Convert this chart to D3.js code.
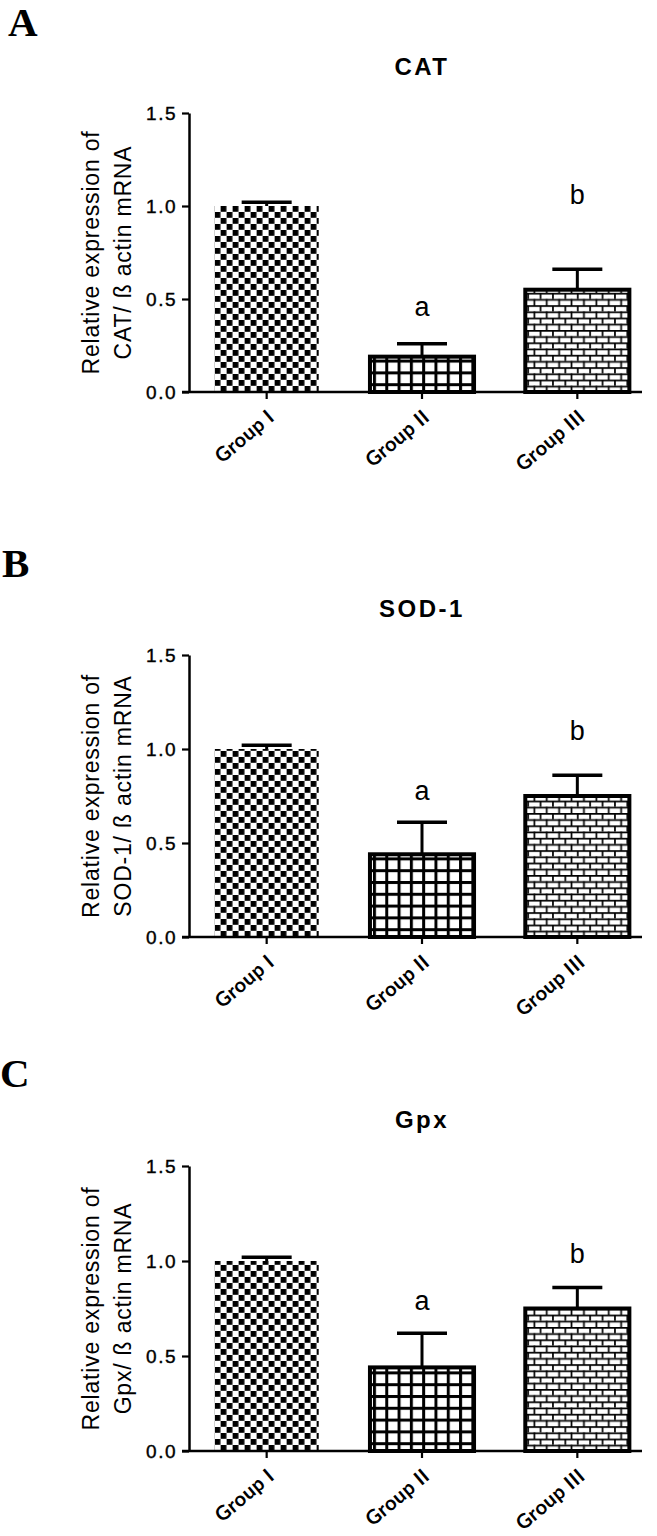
<!DOCTYPE html>
<html>
<head>
    <script src="https://d3js.org/d3.v7.min.js"></script>
    <style>
        body { margin: 0; background: #fff; }
    </style>
</head>
<body>
    <div id="fig"></div>

    <script>

        // data
        const groups = ["Group I", "Group II", "Group III"];
        const yTicks = [0, 0.5, 1.0, 1.5];

        const catMean = [1.00, 0.19, 0.55];
        const catErr  = [0.02, 0.07, 0.11];
        const sodMean = [1.00, 0.44, 0.75];
        const sodErr  = [0.02, 0.17, 0.11];
        const gpxMean = [1.00, 0.44, 0.75];
        const gpxErr  = [0.02, 0.18, 0.11];

        const sigLetters = ["", "a", "b"];
        const catLetterAt = [null, 0.46, 1.06];
        const sodLetterAt = [null, 0.78, 1.10];
        const gpxLetterAt = [null, 0.79, 1.04];

        const panelLetters = ["A", "B", "C"];
        const titles = ["CAT", "SOD-1", "Gpx"];
        const yLabels = ["CAT/ ß actin mRNA", "SOD-1/ ß actin mRNA", "Gpx/ ß actin mRNA"];

        // layout of the three panels (pixel top / bottom of y axis)
        const panels = [
            {mean: catMean, err: catErr, letterAt: catLetterAt, yTop: 113, yBot: 392, letterY: 36, letterX: 8},
            {mean: sodMean, err: sodErr, letterAt: sodLetterAt, yTop: 655, yBot: 937, letterY: 577, letterX: 2},
            {mean: gpxMean, err: gpxErr, letterAt: gpxLetterAt, yTop: 1166, yBot: 1451, letterY: 1087, letterX: 0}
        ];

        const W = 657, H = 1536;
        const axisX = 189, plotRight = 655;

        const svg = d3.select("#fig")
            .append("svg")
            .attr("width", W)
            .attr("height", H);

        const defs = svg.append("defs");

        const x = d3.scaleBand()
            .domain(groups)
            .range([axisX, plotRight])
            .paddingInner(0.33)
            .paddingOuter(0.165);

        ////////////////////////////////////////////////////////////////////////////////

        function makePatterns(i, y0) {
            // checkerboard for group I
            const chk = defs.append("pattern")
                .attr("id", "chk" + i)
                .attr("patternUnits", "userSpaceOnUse")
                .attr("x", x("Group I")).attr("y", y0)
                .attr("width", 12).attr("height", 12);
            chk.append("rect").attr("width", 12).attr("height", 12).attr("fill", "#fff");
            chk.append("rect").attr("x", 0).attr("y", 0).attr("width", 5.8).attr("height", 5.8).attr("fill", "#000");
            chk.append("rect").attr("x", 6).attr("y", 6).attr("width", 5.8).attr("height", 5.8).attr("fill", "#000");

            // square grid for group II
            const grd = defs.append("pattern")
                .attr("id", "grd" + i)
                .attr("patternUnits", "userSpaceOnUse")
                .attr("x", x("Group II") + 3).attr("y", y0 + 3)
                .attr("width", 12.3).attr("height", 11.8);
            grd.append("rect").attr("width", 12.3).attr("height", 11.8).attr("fill", "#000");
            grd.append("rect").attr("x", 3).attr("y", 3).attr("width", 9.3).attr("height", 8.8).attr("fill", "#fff");

            // brick for group III
            const brk = defs.append("pattern")
                .attr("id", "brk" + i)
                .attr("patternUnits", "userSpaceOnUse")
                .attr("x", x("Group III")).attr("y", y0)
                .attr("width", 12.4).attr("height", 12.4);
            brk.append("rect").attr("width", 12.4).attr("height", 12.4).attr("fill", "#fff");
            brk.append("rect").attr("x", 0).attr("y", 0).attr("width", 12.4).attr("height", 1.7).attr("fill", "#000");
            brk.append("rect").attr("x", 0).attr("y", 6.2).attr("width", 12.4).attr("height", 1.7).attr("fill", "#000");
            brk.append("rect").attr("x", 2).attr("y", 0).attr("width", 1.7).attr("height", 6.2).attr("fill", "#000");
            brk.append("rect").attr("x", 8.2).attr("y", 6.2).attr("width", 1.7).attr("height", 6.2).attr("fill", "#000");
        }

        //////////////////////////////////////////////////////////////////////////////

        function drawPanel(p, i) {
            const y = d3.scaleLinear().domain([0, 1.5]).range([p.yBot, p.yTop]);
            makePatterns(i, p.yBot);

            const g = svg.append("g");

            // panel letter
            g.append("text")
                .attr("x", p.letterX)
                .attr("y", p.letterY)
                .attr("font-family", "'Liberation Serif', 'Times New Roman', serif")
                .attr("font-weight", "bold")
                .attr("font-size", 41)
                .text(panelLetters[i]);

            // title
            g.append("text")
                .attr("x", (axisX + plotRight) / 2)
                .attr("y", p.yTop - 38)
                .attr("text-anchor", "middle")
                .attr("font-family", "Arial, 'Liberation Sans', sans-serif")
                .attr("font-weight", "bold")
                .attr("font-size", 24)
                .attr("letter-spacing", 2.5)
                .text(titles[i]);

            // bars
            const fills = ["url(#chk" + i + ")", "url(#grd" + i + ")", "url(#brk" + i + ")"];
            g.selectAll("rect.bar")
                .data(groups)
                .enter()
                .append("rect")
                .attr("class", "bar")
                .attr("x", d => x(d))
                .attr("y", (d, k) => y(p.mean[k]))
                .attr("width", x.bandwidth())
                .attr("height", (d, k) => y(0) - y(p.mean[k]))
                .attr("fill", (d, k) => fills[k])
                .attr("stroke", (d, k) => k === 0 ? "none" : "#000")
                .attr("stroke-width", 4);

            // error bars (upper only)
            const cx = d => x(d) + x.bandwidth() / 2;
            g.selectAll("line.stem")
                .data(groups)
                .enter()
                .append("line")
                .attr("x1", cx).attr("x2", cx)
                .attr("y1", (d, k) => y(p.mean[k]))
                .attr("y2", (d, k) => y(p.mean[k] + p.err[k]))
                .attr("stroke", "#000")
                .attr("stroke-width", 3);
            g.selectAll("line.cap")
                .data(groups)
                .enter()
                .append("line")
                .attr("x1", d => cx(d) - 25).attr("x2", d => cx(d) + 25)
                .attr("y1", (d, k) => y(p.mean[k] + p.err[k]))
                .attr("y2", (d, k) => y(p.mean[k] + p.err[k]))
                .attr("stroke", "#000")
                .attr("stroke-width", 3.5);

            // significance letters
            g.selectAll("text.sig")
                .data(groups.filter((d, k) => sigLetters[k] !== ""))
                .enter()
                .append("text")
                .attr("x", cx)
                .attr("y", d => y(p.letterAt[groups.indexOf(d)]))
                .attr("dy", "0.35em")
                .attr("text-anchor", "middle")
                .attr("font-family", "Arial, 'Liberation Sans', sans-serif")
                .attr("font-size", 27)
                .text(d => sigLetters[groups.indexOf(d)]);

            // y axis
            const yAxis = g.append("g")
                .attr("transform", `translate(${axisX},0)`)
                .call(d3.axisLeft(y).tickValues(yTicks).tickFormat(d3.format(".1f"))
                    .tickSize(7).tickSizeOuter(0).tickPadding(5));
            yAxis.select(".domain").attr("stroke-width", 2.5);
            yAxis.selectAll(".tick line").attr("stroke-width", 2.2);
            yAxis.selectAll(".tick text")
                .attr("font-family", "Arial, 'Liberation Sans', sans-serif")
                .attr("font-size", 19)
                .attr("letter-spacing", 1.5)
                .attr("stroke", "#000")
                .attr("stroke-width", 0.4)
                .attr("fill", "#000");

            // y axis label
            const ly = (p.yTop + p.yBot) / 2;
            const yl = g.append("text")
                .attr("transform", `translate(99,${ly}) rotate(-90)`)
                .attr("text-anchor", "middle")
                .attr("font-family", "Arial, 'Liberation Sans', sans-serif")
                .attr("font-size", 23)
                .attr("letter-spacing", 0.8);
            yl.append("tspan").attr("x", 0).attr("y", 0).text("Relative expression of");
            yl.append("tspan").attr("x", 0).attr("y", 32).text(yLabels[i]);

            // x axis
            g.append("line")
                .attr("x1", axisX - 7).attr("x2", 642)
                .attr("y1", y(0)).attr("y2", y(0))
                .attr("stroke", "#000")
                .attr("stroke-width", 2.5);
            g.selectAll("line.xtick")
                .data(groups)
                .enter()
                .append("line")
                .attr("x1", cx).attr("x2", cx)
                .attr("y1", y(0)).attr("y2", y(0) + 7)
                .attr("stroke", "#000")
                .attr("stroke-width", 2.2);
            g.selectAll("text.xlab")
                .data(groups)
                .enter()
                .append("text")
                .attr("transform", d => `translate(${cx(d) + 9},${y(0) + 27}) rotate(-40)`)
                .attr("text-anchor", "end")
                .attr("font-family", "Lato, 'Open Sans', sans-serif")
                .attr("font-weight", 700)
                .attr("font-size", 20)
                .attr("letter-spacing", 0.5)
                .text(d => d);
        }

        panels.forEach(drawPanel);

    </script>
</body>
</html>
